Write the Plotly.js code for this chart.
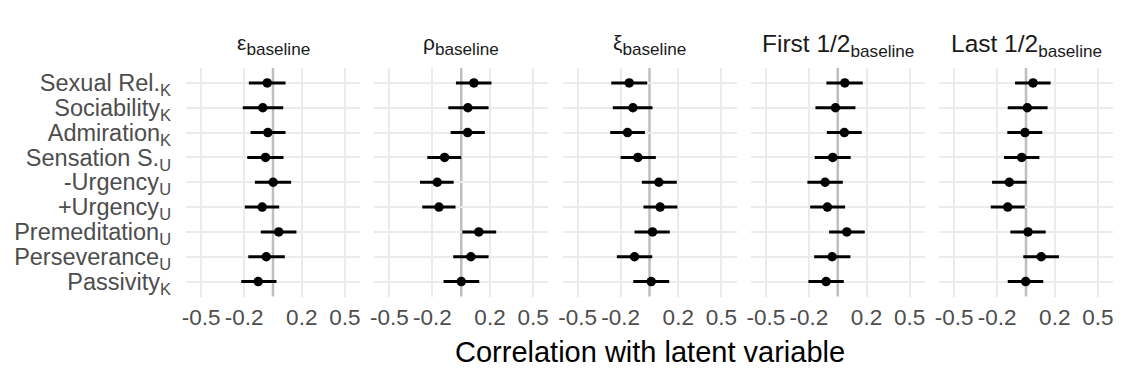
<!DOCTYPE html>
<html>
<head>
<meta charset="utf-8">
<script src="https://cdn.plot.ly/plotly-3.0.1.min.js"></script>
<style>html,body{margin:0;padding:0;background:#fff;}#chart{width:1128px;height:384px;}</style>
</head>
<body>
<div id="chart"></div>
<script>
// ---- data ----
var categories = [
  "Sexual Rel.<sub>K</sub>", "Sociability<sub>K</sub>", "Admiration<sub>K</sub>",
  "Sensation S.<sub>U</sub>", "-Urgency<sub>U</sub>", "+Urgency<sub>U</sub>",
  "Premeditation<sub>U</sub>", "Perseverance<sub>U</sub>", "Passivity<sub>K</sub>"
];
var panelTitles = [
  "<span style='font-size:21px'>ε</span><sub>baseline</sub>",
  "<span style='font-size:21px'>ρ</span><sub>baseline</sub>",
  "<span style='font-size:21px'>ξ</span><sub>baseline</sub>",
  "First 1/2<sub>baseline</sub>", "Last 1/2<sub>baseline</sub>"
];
var tickValues = [-0.5, -0.2, 0.2, 0.5];
var tickLabels = ["-0.5", "-0.2", "0.2", "0.5"];

var epsEst = [-0.040, -0.071, -0.036, -0.052, 0.001, -0.075, 0.040, -0.047, -0.103];
var epsLo  = [-0.168, -0.210, -0.156, -0.179, -0.126, -0.196, -0.085, -0.172, -0.221];
var epsHi  = [0.087, 0.071, 0.087, 0.073, 0.126, 0.043, 0.163, 0.082, 0.024];

var rhoEst = [0.088, 0.046, 0.044, -0.116, -0.167, -0.155, 0.122, 0.067, 0.000];
var rhoLo  = [-0.037, -0.090, -0.074, -0.236, -0.287, -0.271, 0.007, -0.056, -0.123];
var rhoHi  = [0.210, 0.190, 0.164, 0.000, -0.053, -0.040, 0.243, 0.190, 0.125];

var xiEst = [-0.141, -0.115, -0.153, -0.081, 0.065, 0.074, 0.021, -0.104, 0.012];
var xiLo  = [-0.266, -0.255, -0.273, -0.201, -0.053, -0.042, -0.104, -0.227, -0.113];
var xiHi  = [-0.016, 0.021, -0.032, 0.044, 0.190, 0.194, 0.141, 0.019, 0.137];

var firstEst = [0.049, -0.016, 0.046, -0.035, -0.088, -0.072, 0.063, -0.039, -0.081];
var firstLo  = [-0.079, -0.155, -0.076, -0.160, -0.211, -0.192, -0.060, -0.164, -0.204];
var firstHi  = [0.174, 0.123, 0.167, 0.090, 0.035, 0.051, 0.188, 0.088, 0.042];

var lastEst = [0.049, 0.009, -0.007, -0.030, -0.116, -0.127, 0.014, 0.106, -0.002];
var lastLo  = [-0.076, -0.127, -0.130, -0.153, -0.236, -0.245, -0.109, -0.019, -0.127];
var lastHi  = [0.171, 0.150, 0.113, 0.093, 0.005, -0.009, 0.137, 0.229, 0.120];

var panels = [
  {est: epsEst, lo: epsLo, hi: epsHi},
  {est: rhoEst, lo: rhoLo, hi: rhoHi},
  {est: xiEst, lo: xiLo, hi: xiHi},
  {est: firstEst, lo: firstLo, hi: firstHi},
  {est: lastEst, lo: lastLo, hi: lastHi}
];

// ---- layout geometry ----
var W = 1128, H = 384;
var panelLeft = 186, panelStep = 188.25, panelWidth = 174;
var panelTop = 68, panelBottom = 296.5;
var yDom = [1 - panelBottom / H, 1 - panelTop / H];
var FONT = "Liberation Sans, Arial, Helvetica, sans-serif";

var data = [];
var layout = {
  width: W, height: H,
  margin: {l: 0, r: 0, t: 0, b: 0},
  paper_bgcolor: "#ffffff",
  plot_bgcolor: "rgba(0,0,0,0)",
  showlegend: false,
  font: {family: FONT, color: "#4d4d4d"},
  shapes: [],
  annotations: []
};

panels.forEach(function (p, i) {
  var sfx = i === 0 ? "" : String(i + 1);
  var x0 = panelLeft + i * panelStep;
  var dom = [x0 / W, (x0 + panelWidth) / W];
  data.push({
    type: "scatter", mode: "markers",
    x: p.est, y: categories,
    xaxis: "x" + sfx, yaxis: "y" + sfx,
    marker: {color: "#000000", size: 9.5},
    error_x: {
      type: "data", symmetric: false,
      array: p.hi.map(function (h, k) { return h - p.est[k]; }),
      arrayminus: p.lo.map(function (l, k) { return p.est[k] - l; }),
      color: "#000000", thickness: 3, width: 0
    },
    hoverinfo: "skip", cliponaxis: false
  });
  layout["xaxis" + sfx] = {
    domain: dom, anchor: "y" + sfx,
    range: [-0.605, 0.605],
    tickmode: "array", tickvals: tickValues, ticktext: tickLabels,
    showgrid: true, gridcolor: "#ebebeb", gridwidth: 2,
    zeroline: false, showline: false, ticks: "",
    ticklabelstandoff: 5,
    tickfont: {family: FONT, size: 22.5, color: "#4d4d4d"},
    fixedrange: true
  };
  layout["yaxis" + sfx] = {
    domain: yDom, anchor: "x" + sfx,
    type: "category", categoryorder: "array", categoryarray: categories,
    tickmode: "array", tickvals: categories, ticktext: categories,
    range: [8.6, -0.6],
    showgrid: true, gridcolor: "#ebebeb", gridwidth: 2,
    zeroline: false, showline: false, ticks: "",
    showticklabels: i === 0,
    ticklabelstandoff: 14,
    tickfont: {family: FONT, size: 23.5, color: "#4d4d4d"},
    fixedrange: true
  };
  layout.shapes.push({
    type: "line", xref: "x" + sfx, yref: "paper",
    x0: 0, x1: 0, y0: yDom[0], y1: yDom[1],
    line: {color: "#bebebe", width: 2.5}, layer: "between"
  });
  layout.annotations.push({
    text: panelTitles[i], xref: "paper", yref: "paper",
    x: (x0 + panelWidth / 2) / W, y: 1 - 45 / H,
    xanchor: "center", yanchor: "middle", showarrow: false,
    font: {family: FONT, size: 24.5, color: "#1a1a1a"}
  });
});

layout.annotations.push({
  text: "Correlation with latent variable", xref: "paper", yref: "paper",
  x: (panelLeft + (4 * panelStep + panelWidth) / 2) / W, y: 1 - 352 / H,
  xanchor: "center", yanchor: "middle", showarrow: false,
  font: {family: FONT, size: 29, color: "#000000"}
});

Plotly.newPlot("chart", data, layout, {staticPlot: true, displayModeBar: false});
</script>
</body>
</html>
